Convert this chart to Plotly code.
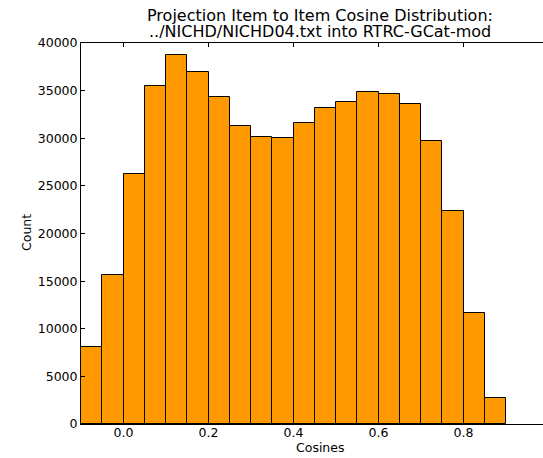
import plotly.graph_objects as go

bin_starts = [-0.10, -0.05, 0.00, 0.05, 0.10, 0.15, 0.20, 0.25, 0.30, 0.35,
              0.40, 0.45, 0.50, 0.55, 0.60, 0.65, 0.70, 0.75, 0.80, 0.85]
counts = [8120, 15680, 26250, 35460, 38780, 36930, 34370, 31290, 30110, 30060,
          31640, 33210, 33780, 34860, 34620, 33570, 29710, 22400, 11650, 2730]
bin_width = 0.05
x_ticks = [0.0, 0.2, 0.4, 0.6, 0.8]
x_tick_labels = ["0.0", "0.2", "0.4", "0.6", "0.8"]
y_ticks = [0, 5000, 10000, 15000, 20000, 25000, 30000, 35000, 40000]
title_lines = ["Projection Item to Item Cosine Distribution:",
               "../NICHD/NICHD04.txt into RTRC-GCat-mod"]
x_label = "Cosines"
y_label = "Count"

W, H = 543, 458
L, R, T, B = 81, 0, 43, 34
PH = H - T - B
PW = W - L - R
xmin = -0.1
xmax = -0.1 + PW / 425.0

font = dict(family="DejaVu Sans", size=12.5, color="black")
tfont = dict(family="DejaVu Sans", size=16, color="black")


def py(p):
    return (H - B - p) / PH


def px(p):
    return (p - L) / PW


fig = go.Figure()
fig.add_trace(go.Bar(
    x=bin_starts, y=counts, width=bin_width, offset=0,
    marker=dict(color="#FF9900", line=dict(color="black", width=1)),
    xaxis="x", yaxis="y",
))
# invisible trace to activate top axis
fig.add_trace(go.Scatter(x=[xmin], y=[0], xaxis="x2", yaxis="y",
                         mode="markers", marker=dict(opacity=0),
                         showlegend=False, hoverinfo="skip"))

fig.update_layout(
    width=W, height=H,
    margin=dict(l=L, r=R, t=T, b=B, pad=0),
    paper_bgcolor="white", plot_bgcolor="white",
    showlegend=False, bargap=0,
    font=font,
    xaxis=dict(range=[xmin, xmax], tickvals=x_ticks, ticktext=x_tick_labels,
               ticks="inside", ticklen=4, tickcolor="black", tickwidth=1,
               ticklabelstandoff=-3,
               showline=True, linecolor="black", linewidth=1,
               showgrid=False, zeroline=False, tickfont=font, automargin=False),
    xaxis2=dict(range=[xmin, xmax], overlaying="x", side="top",
                tickvals=x_ticks, showticklabels=False,
                ticks="inside", ticklen=4, tickcolor="black", tickwidth=1,
                showline=True, linecolor="black", linewidth=1,
                showgrid=False, zeroline=False, automargin=False),
    yaxis=dict(range=[0, 40000], tickvals=y_ticks, tickformat="d",
               ticks="inside", ticklen=4, tickcolor="black", tickwidth=1,
               showline=True, linecolor="black", linewidth=1,
               showgrid=False, zeroline=False, tickfont=font, automargin=False),
    annotations=[
        dict(text=title_lines[0], xref="paper", yref="paper", x=px(320), y=py(15),
             xanchor="center", yanchor="middle", showarrow=False, font=tfont),
        dict(text=title_lines[1], xref="paper", yref="paper", x=px(320), y=py(31),
             xanchor="center", yanchor="middle", showarrow=False, font=tfont),
        dict(text=x_label, xref="paper", yref="paper", x=px(320), y=py(448),
             xanchor="center", yanchor="middle", showarrow=False, font=font),
        dict(text=y_label, xref="paper", yref="paper", x=px(26), y=py(233),
             xanchor="center", yanchor="middle",
             textangle=-90, showarrow=False, font=font),
    ],
)

fig.write_html("out.html", config={"displayModeBar": False},
               post_script="document.body.style.margin='0';document.body.style.overflow='hidden';")
